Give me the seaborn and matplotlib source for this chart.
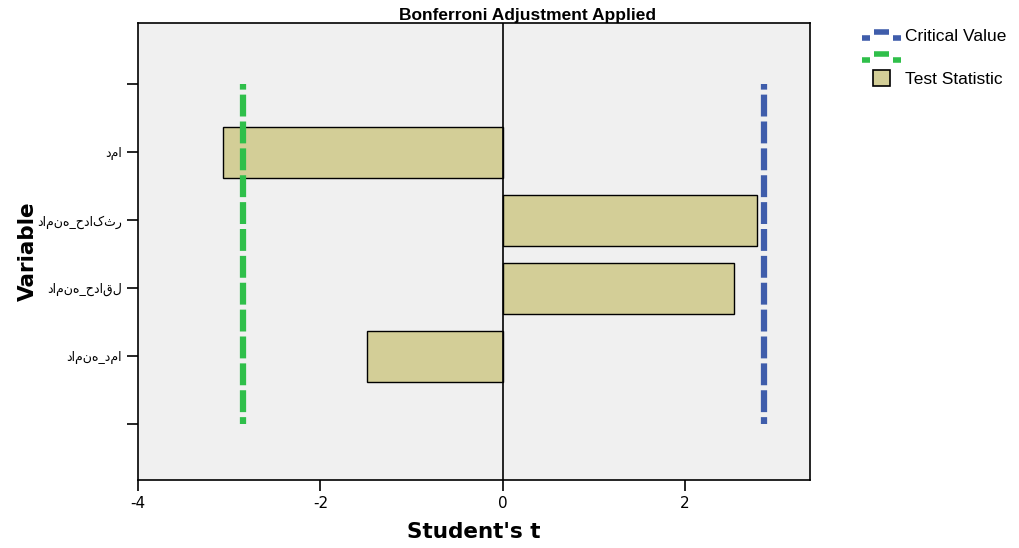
import pandas as pd
import seaborn as sns
import matplotlib.pyplot as plt
from matplotlib.lines import Line2D
from matplotlib.patches import Patch, Rectangle
from matplotlib.legend_handler import HandlerBase, HandlerPatch

# Data
variables = ["", "دما", "دامنه_حداکثر", "دامنه_حداقل", "دامنه_دما", " "]
t_values = [None, -3.07, 2.79, 2.54, -1.49, None]
critical_low = -2.85
critical_high = 2.87

df = pd.DataFrame({"Variable": variables, "t": t_values})


# legend key drawn as SPSS does it: low dash, raised dash, low dash
class StepDash(HandlerBase):
    def create_artists(self, legend, orig, xd, yd, width, height, fontsize, trans):
        c = orig.get_color()
        lo, hi = yd + height * 0.25, yd + height * 0.75
        segs = [([xd, xd + width * 0.2], [lo, lo]),
                ([xd + width * 0.3, xd + width * 0.7], [hi, hi]),
                ([xd + width * 0.8, xd + width], [lo, lo])]
        out = []
        for xs, ys in segs:
            ln = Line2D(xs, ys, color=c, lw=4, solid_capstyle="butt", transform=trans)
            out.append(ln)
        return out


def square_patch(legend, orig_handle, xdescent, ydescent, width, height, fontsize):
    side = height * 1.35
    x0 = -xdescent + (width - side) / 2
    y0 = -ydescent + (height - side) / 2
    return Rectangle((x0, y0), side, side)


sns.set_style("white")
plt.rcParams["font.family"] = ["DejaVu Sans"]
plt.rcParams["text.color"] = "black"
plt.rcParams["xtick.color"] = "black"
plt.rcParams["ytick.color"] = "black"
plt.rcParams["axes.labelcolor"] = "black"

fig = plt.figure(figsize=(10.19, 5.48), dpi=100)
ax = fig.add_axes([0.1354, 0.1241, 0.6595, 0.8339])
ax.set_facecolor("#f0f0f0")

sns.barplot(
    data=df,
    x="t",
    y="Variable",
    order=variables,
    orient="h",
    color="#d3ce97",
    saturation=1,
    edgecolor="black",
    linewidth=1,
    width=0.75,
    ax=ax,
)

# Critical value lines
dash = (2.6, (3.5, 0.8))
ax.plot([critical_high, critical_high], [0, 5], color="#3f5dab", lw=4.5,
        linestyle=dash, dash_capstyle="butt")
ax.plot([critical_low, critical_low], [0, 5], color="#2fbf4a", lw=4.5,
        linestyle=dash, dash_capstyle="butt")
ax.axvline(0, color="black", lw=1.2)

ax.set_xlim(-4, 3.37)
ax.set_ylim(5.82, -0.9)
ax.set_xticks([-4, -2, 0, 2])
ax.set_xticklabels(["-4", "-2", "0", "2"], fontsize=11)
ax.set_yticks(range(len(variables)))
ax.set_yticklabels(variables, fontsize=9)
ax.tick_params(axis="both", direction="out", length=8, width=1.2, left=True, bottom=True)

for s in ax.spines.values():
    s.set_color("black")
    s.set_linewidth(1.2)

fig.text(0.518, 0.985, "Bonferroni Adjustment Applied", ha="center", va="top",
         fontsize=12.5, fontweight="bold", family=["Liberation Sans"])
ax.set_xlabel("Student's t", fontsize=15.5, fontweight="bold")
ax.set_ylabel("Variable", fontsize=15.5, fontweight="bold")
ax.xaxis.set_label_coords(0.5, -0.093)
ax.yaxis.set_label_coords(-0.149, 0.5)

blue_key = Line2D([0], [0], color="#3f5dab")
green_key = Line2D([0], [0], color="#2fbf4a")
box_key = Patch(facecolor="#d3ce97", edgecolor="black", linewidth=1.2)
leg = fig.legend([blue_key, green_key, box_key], ["Critical Value", "", "Test Statistic"],
                 loc="upper left", bbox_to_anchor=(0.831, 0.975), frameon=False,
                 prop={"family": "Liberation Sans", "size": 12.5},
                 handler_map={blue_key: StepDash(), green_key: StepDash(),
                              box_key: HandlerPatch(patch_func=square_patch)},
                 handlelength=2.2, handletextpad=0.25, labelspacing=0.35)

fig.savefig("out.png", dpi=100)
